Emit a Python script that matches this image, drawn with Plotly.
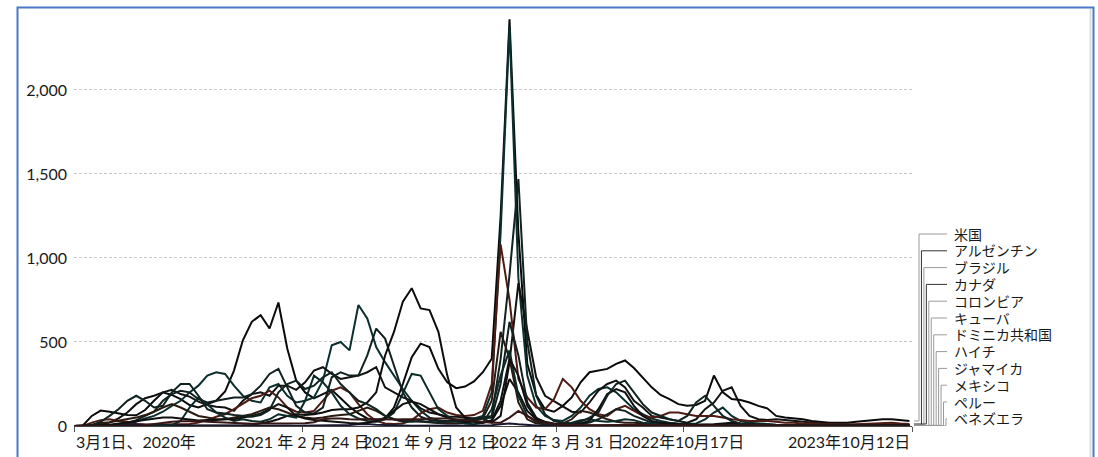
import pandas as pd
import plotly.graph_objects as go

# Daily new confirmed cases per million people, sampled every 14 days from 1 Mar 2020
dates = pd.date_range("2020-03-01", periods=95, freq="14D")

countries = ["米国", "アルゼンチン", "ブラジル", "カナダ", "コロンビア", "キューバ",
             "ドミニカ共和国", "ハイチ", "ジャマイカ", "メキシコ", "ペルー", "ベネズエラ"]

us = [0, 3, 60, 92, 85, 75, 66, 64, 95, 150,
      200, 185, 160, 125, 110, 130, 150, 205, 330, 510,
      620, 660, 580, 735, 460, 270, 200, 165, 190, 215,
      165, 115, 75, 45, 35, 45, 110, 250, 410, 490,
      470, 340, 260, 225, 235, 265, 320, 400, 1250, 2420,
      1150, 370, 185, 100, 85, 120, 170, 260, 320, 330,
      340, 370, 390, 345, 290, 230, 185, 160, 130, 120,
      125, 150, 300, 200, 160, 155, 140, 120, 105, 60,
      50, 45, 40, 30, 25, 20, 20, 20, 25, 30,
      35, 40, 40, 35, 30]

argentina = [0, 0, 1, 2, 3, 6, 12, 25, 45, 60,
             85, 120, 150, 200, 240, 300, 320, 310, 240, 180,
             150, 140, 230, 250, 180, 140, 150, 170, 270, 480,
             500, 450, 720, 640, 470, 380, 300, 220, 150, 90,
             50, 35, 25, 25, 30, 45, 60, 200, 1150, 2380,
             880, 300, 120, 60, 35, 30, 60, 110, 180, 220,
             230, 200, 150, 100, 70, 45, 30, 20, 15, 12,
             15, 40, 80, 110, 60, 30, 20, 15, 10, 8,
             6, 5, 5, 4, 4, 3, 3, 3, 2, 2,
             2, 2, 2, 2, 2]

brazil = [0, 0, 3, 8, 20, 45, 80, 130, 165, 180,
          200, 215, 190, 175, 145, 125, 115, 110, 90, 150,
          190, 200, 180, 240, 240, 215, 260, 330, 350, 310,
          280, 290, 300, 320, 350, 230, 200, 170, 150, 105,
          80, 70, 55, 55, 50, 45, 45, 20, 60, 380,
          850, 560, 290, 180, 150, 120, 85, 80, 140, 210,
          250, 270, 230, 150, 110, 60, 50, 40, 30, 20,
          40, 100, 140, 210, 230, 120, 60, 40, 35, 40,
          35, 30, 25, 20, 15, 10, 10, 8, 8, 8,
          7, 7, 6, 6, 6]

canada = [0, 1, 20, 35, 40, 30, 25, 12, 9, 8,
          10, 10, 10, 12, 20, 35, 55, 70, 100, 130,
          165, 180, 210, 170, 110, 85, 80, 90, 150, 210,
          230, 200, 130, 70, 30, 15, 12, 15, 35, 75,
          100, 110, 80, 65, 60, 65, 90, 250, 1080, 750,
          280, 170, 110, 100, 160, 280, 230, 150, 100, 70,
          60, 100, 120, 90, 60, 50, 60, 80, 80, 70,
          60, 60, 60, 50, 40, 35, 30, 30, 30, 25,
          20, 20, 15, 15, 10, 10, 8, 8, 10, 12,
          15, 18, 20, 15, 12]

colombia = [0, 0, 1, 3, 5, 10, 18, 35, 60, 85,
            150, 190, 210, 200, 160, 140, 150, 160, 170, 170,
            190, 240, 310, 340, 230, 120, 80, 75, 110, 290,
            320, 300, 300, 420, 580, 520, 360, 200, 110, 55,
            35, 30, 30, 35, 40, 45, 45, 50, 250, 620,
            420, 140, 50, 20, 12, 10, 10, 12, 20, 40,
            70, 100, 90, 60, 40, 20, 12, 8, 5, 4,
            4, 5, 8, 10, 8, 6, 5, 4, 3, 3,
            3, 3, 2, 2, 2, 2, 2, 2, 1, 1,
            1, 1, 1, 1, 1]

cuba = [0, 0, 1, 3, 3, 2, 1, 1, 1, 1,
        1, 2, 4, 4, 4, 3, 3, 3, 3, 4,
        6, 15, 25, 40, 60, 70, 65, 70, 80, 95,
        100, 100, 110, 140, 200, 420, 560, 740, 820, 700,
        690, 560, 300, 110, 50, 25, 20, 30, 120, 280,
        200, 90, 40, 20, 10, 6, 4, 3, 3, 3,
        3, 4, 5, 4, 3, 2, 2, 2, 2, 2,
        2, 2, 2, 2, 2, 2, 1, 1, 1, 1,
        1, 1, 1, 1, 1, 1, 1, 1, 1, 1,
        1, 1, 1, 1, 1]

dominican_rep = [0, 1, 8, 18, 22, 30, 40, 50, 65, 85,
                 110, 130, 110, 85, 60, 50, 40, 40, 50, 60,
                 70, 90, 110, 100, 80, 60, 50, 45, 50, 60,
                 65, 70, 90, 110, 90, 60, 40, 30, 30, 25,
                 20, 18, 15, 15, 20, 30, 45, 150, 560, 400,
                 140, 40, 15, 10, 10, 15, 40, 90, 80, 60,
                 40, 25, 20, 20, 15, 10, 10, 8, 5, 5,
                 5, 5, 5, 5, 4, 4, 3, 3, 3, 3,
                 3, 3, 2, 2, 2, 2, 2, 2, 2, 2,
                 2, 2, 2, 2, 2]

haiti = [0, 0, 0, 0, 1, 2, 6, 10, 8, 5,
         3, 2, 2, 1, 1, 1, 1, 1, 1, 2,
         3, 4, 5, 4, 3, 2, 2, 2, 2, 3,
         4, 6, 10, 12, 8, 5, 3, 3, 2, 2,
         2, 2, 2, 2, 2, 2, 3, 5, 10, 15,
         10, 5, 3, 2, 2, 1, 1, 1, 1, 1,
         1, 2, 3, 3, 2, 2, 1, 1, 1, 1,
         1, 1, 1, 1, 1, 1, 1, 1, 1, 1,
         1, 1, 1, 1, 1, 1, 1, 1, 1, 1,
         1, 1, 1, 1, 1]

jamaica = [0, 1, 2, 3, 5, 3, 2, 1, 1, 1,
           2, 5, 30, 110, 170, 130, 80, 50, 30, 40,
           30, 25, 40, 70, 60, 50, 150, 300, 260, 200,
           120, 70, 45, 30, 25, 40, 80, 200, 310, 300,
           200, 100, 60, 30, 15, 10, 20, 100, 300, 450,
           180, 60, 25, 15, 10, 10, 20, 35, 40, 30,
           25, 30, 40, 35, 20, 15, 10, 10, 8, 8,
           8, 8, 8, 7, 6, 5, 5, 4, 4, 4,
           3, 3, 3, 3, 3, 3, 3, 3, 3, 3,
           3, 3, 3, 3, 3]

mexico = [0, 0, 1, 3, 8, 15, 22, 30, 40, 45,
          50, 50, 45, 38, 33, 35, 35, 40, 40, 50,
          60, 75, 100, 130, 110, 60, 45, 35, 30, 28,
          22, 18, 15, 20, 30, 50, 90, 130, 145, 130,
          100, 70, 50, 35, 25, 25, 20, 35, 150, 400,
          300, 120, 45, 25, 15, 10, 10, 15, 30, 100,
          190, 220, 200, 120, 60, 30, 20, 15, 10, 8,
          8, 8, 10, 15, 20, 15, 10, 8, 5, 5,
          4, 4, 4, 3, 3, 3, 3, 3, 3, 4,
          5, 6, 6, 5, 4]

peru = [0, 0, 5, 25, 60, 100, 150, 180, 150, 110,
        120, 200, 250, 250, 180, 100, 80, 75, 65, 60,
        55, 65, 95, 200, 250, 270, 220, 240, 290, 320,
        250, 200, 150, 130, 100, 60, 40, 25, 25, 30,
        25, 20, 25, 30, 35, 40, 50, 60, 400, 900,
        1470, 500, 180, 70, 30, 20, 15, 25, 50, 80,
        180, 250, 270, 200, 130, 80, 60, 40, 30, 60,
        140, 180, 120, 60, 30, 15, 10, 8, 5, 5,
        5, 4, 4, 3, 3, 3, 2, 2, 2, 2,
        2, 2, 2, 2, 2]

venezuela = [0, 0, 0, 0, 0, 1, 1, 2, 5, 12,
             20, 25, 28, 30, 30, 25, 22, 18, 15, 13,
             13, 15, 15, 15, 15, 15, 16, 22, 40, 45,
             45, 40, 38, 42, 40, 40, 38, 40, 38, 40,
             45, 45, 45, 40, 35, 30, 25, 20, 20, 50,
             90, 60, 30, 20, 10, 8, 6, 5, 5, 5,
             6, 8, 10, 10, 8, 6, 5, 4, 4, 4,
             3, 3, 3, 3, 3, 3, 3, 2, 2, 2,
             2, 2, 2, 2, 2, 2, 2, 2, 2, 2,
             1, 1, 1, 1, 1]

series = [us, argentina, brazil, canada, colombia, cuba,
          dominican_rep, haiti, jamaica, mexico, peru, venezuela]

line_colors = ["#0a0a0a", "#0b2f2d", "#121212", "#4e1c14", "#132020", "#0d0d0d",
               "#2a1a10", "#18182e", "#0b2a28", "#101010", "#102321", "#351616"]
connector_colors = ["#9a9a9a", "#333333", "#9a9a9a", "#333333", "#9a9a9a", "#9a9a9a",
                    "#9a9a9a", "#9a9a9a", "#9a9a9a", "#9a9a9a", "#9a9a9a", "#9a9a9a"]

tick_dates = ["2020-03-01", "2021-02-24", "2021-09-12", "2022-03-31", "2022-10-17", "2023-10-12"]
tick_texts = ["3月1日、2020年", "2021 年 2 月 24 日", "2021 年 9 月 12 日",
              "2022 年 3 月 31 日", "2022年10月17日", "2023年10月12日"]
y_ticks = [0, 500, 1000, 1500, 2000]

# Page geometry
W, H = 1098, 457
ML, MR, MT, MB = 74, 186, 14, 31
Y_MAX = 2452
plot_w = W - ML - MR
plot_h = H - MT - MB

FONT = "Lato, 'Noto Sans CJK JP', sans-serif"


def paper_x(px):
    return (px - ML) / plot_w


def paper_y(py):
    return (H - MB - py) / plot_h


def data_y(py):
    return (H - MB - py) * Y_MAX / plot_h


fig = go.Figure()
for name, vals, col in zip(countries, series, line_colors):
    fig.add_trace(go.Scatter(x=dates, y=vals, name=name, mode="lines",
                             line=dict(color=col, width=2), showlegend=False))

shapes = []
annotations = []

# Right-hand labels with elbow connectors down to each line's last value
label_top, label_step = 234, 16.8
elbow_x0, elbow_step = 919, 2.45
for k, (name, vals) in enumerate(zip(countries, series)):
    ly = data_y(label_top + k * label_step)
    ex = paper_x(elbow_x0 + k * elbow_step)
    x_start = paper_x(914)
    x_stub = paper_x(947)
    end_v = vals[-1]
    shapes.append(dict(type="path", xref="paper", yref="y", layer="above",
                       path=f"M {x_start},{end_v} L {ex},{end_v} L {ex},{ly} L {x_stub},{ly}",
                       line=dict(color=connector_colors[k], width=1)))
    annotations.append(dict(x=paper_x(952), y=ly, xref="paper", yref="y",
                            text=name, showarrow=False, xanchor="left", yanchor="middle",
                            font=dict(family=FONT, size=14, color="#1a1a1a")))

# Date labels under the axis: first left-aligned, last right-aligned
for j, (d, t) in enumerate(zip(tick_dates, tick_texts)):
    anchor = "left" if j == 0 else ("right" if j == len(tick_dates) - 1 else "center")
    annotations.append(dict(x=d, y=0, xref="x", yref="paper", text=t, showarrow=False,
                            xanchor=anchor, yanchor="top", yshift=-4,
                            font=dict(family=FONT, size=16, color="#1a1a1a")))

# Outer frame
shapes.append(dict(type="rect", xref="paper", yref="paper", layer="above",
                   x0=paper_x(17.5), x1=paper_x(1093.5), y0=paper_y(480), y1=paper_y(7.5),
                   line=dict(color="#4a78c8", width=2), fillcolor="rgba(0,0,0,0)"))
shapes.append(dict(type="line", xref="paper", yref="paper", layer="below",
                   x0=paper_x(1090.5), x1=paper_x(1090.5), y0=paper_y(480), y1=paper_y(9),
                   line=dict(color="#dedede", width=2)))

fig.update_layout(
    width=W, height=H,
    margin=dict(l=ML, r=MR, t=MT, b=MB, pad=0),
    paper_bgcolor="white", plot_bgcolor="white",
    font=dict(family=FONT, size=16, color="#1a1a1a"),
    shapes=shapes, annotations=annotations,
    xaxis=dict(type="date", range=[tick_dates[0], tick_dates[-1]],
               tickvals=tick_dates, showticklabels=False,
               ticks="outside", ticklen=5, tickcolor="#555555", tickwidth=1,
               showgrid=False, zeroline=False,
               showline=True, linecolor="#444444", linewidth=1),
    yaxis=dict(range=[0, Y_MAX], tickvals=y_ticks, tickformat=",",
               showgrid=True, gridcolor="#c8c8c8", griddash="3px,2px", gridwidth=1,
               zeroline=False, showline=False, ticks="",
               ticklabelstandoff=6,
               tickfont=dict(family=FONT, size=16, color="#1a1a1a")),
)

fig.write_html("out.html")
